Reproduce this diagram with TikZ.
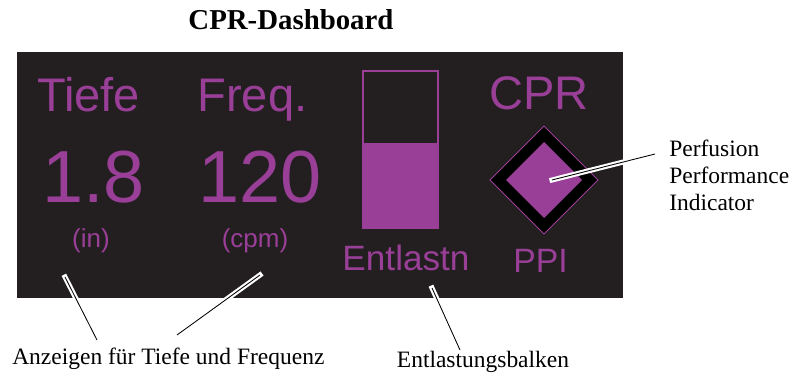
\documentclass[tikz,border=0pt]{standalone}
\usepackage{fontspec}
\setmainfont{Liberation Serif}
\newfontfamily\dashfont{Liberation Sans}
\usepackage{tikz}

\definecolor{screen}{RGB}{35,31,32}
\definecolor{cprpurple}{RGB}{153,63,151}

\tikzset{
	disp/.style={text=cprpurple,inner sep=0pt,anchor=base,font=\dashfont#1},
	callout/.style={black,line width=0.6pt,preaction={draw=white,line width=3.6pt,line cap=rect}},
	lbl/.style={inner sep=0pt,anchor=base,font=\fontsize{16.7}{19.3}\selectfont},
}

\begin{document}
\begin{tikzpicture}[x=0.025cm,y=-0.025cm]
		\useasboundingbox (0,0) rectangle (792,374);

		\node[lbl,font=\fontsize{20.5}{24}\selectfont\bfseries] (title) at (291,30) {CPR-Dashboard};

		% >>> screen
		\fill[screen] (17,52) rectangle (623,298);
		% <<< screen

		% >>> depth and rate
		\node[disp=\fontsize{33.5}{36}\selectfont] (tiefe) at (88.5,112) {Tiefe};
		\node[disp=\fontsize{52.5}{56}\selectfont] (tiefeval) at (93.5,203) {1.8};
		\node[disp=\fontsize{18.5}{21}\selectfont] (tiefeunit) at (91,247.5) {(in)};

		\node[disp=\fontsize{33.5}{36}\selectfont] (freq) at (252.5,112) {Freq.};
		\node[disp=\fontsize{52.5}{56}\selectfont] (freqval) at (260,203) {120};
		\node[disp=\fontsize{18.5}{21}\selectfont] (frequnit) at (255,247.5) {(cpm)};
		% <<< depth and rate

		% >>> recoil bar
		\draw[cprpurple,line width=0.8pt] (363,71) rectangle (438,228);
		\fill[cprpurple] (363,143) rectangle (438,228);
		\node[disp=\fontsize{25}{28}\selectfont] (entlastn) at (406,270) {Entlastn};
		% <<< recoil bar

		% >>> perfusion indicator
		\node[disp=\fontsize{33.5}{36}\selectfont] (cpr) at (539,110) {CPR};
		\draw[cprpurple,fill=black,line width=0.7pt] (544,126) -- (598,180) -- (544,234) -- (490,180) -- cycle;
		\fill[cprpurple] (544,142) -- (582,180) -- (544,218) -- (506,180) -- cycle;
		\node[disp=\fontsize{24}{27}\selectfont] (ppi) at (540.5,273) {PPI};
		% <<< perfusion indicator

		% >>> labels
		\node[lbl,anchor=base west] (anzeigen) at (12,364) {Anzeigen für Tiefe und Frequenz};
		\node[lbl] (balken) at (483,367) {Entlastungsbalken};
		\node[lbl,anchor=base west,align=left] (ppilabel) at (669,211) {Perfusion\\Performance\\Indicator};
		% <<< labels

		% >>> callouts
		\coordinate (tiefetip) at (65,277);
		\coordinate (freqtip) at (260,275);
		\coordinate (balkentip) at (432,288);
		\coordinate (ppitip) at (552,180);
		\coordinate (anzA) at (97,340);
		\coordinate (anzB) at (177,335);
		\coordinate (balkenend) at (460,350);
		\coordinate (ppiend) at (655,154);

		\draw[callout] (tiefetip) -- (anzA);
		\draw[callout] (freqtip) -- (anzB);
		\draw[callout] (balkentip) -- (balkenend);
		\draw[callout] (ppitip) -- (ppiend);
		% <<< callouts
	\end{tikzpicture}
\end{document}
